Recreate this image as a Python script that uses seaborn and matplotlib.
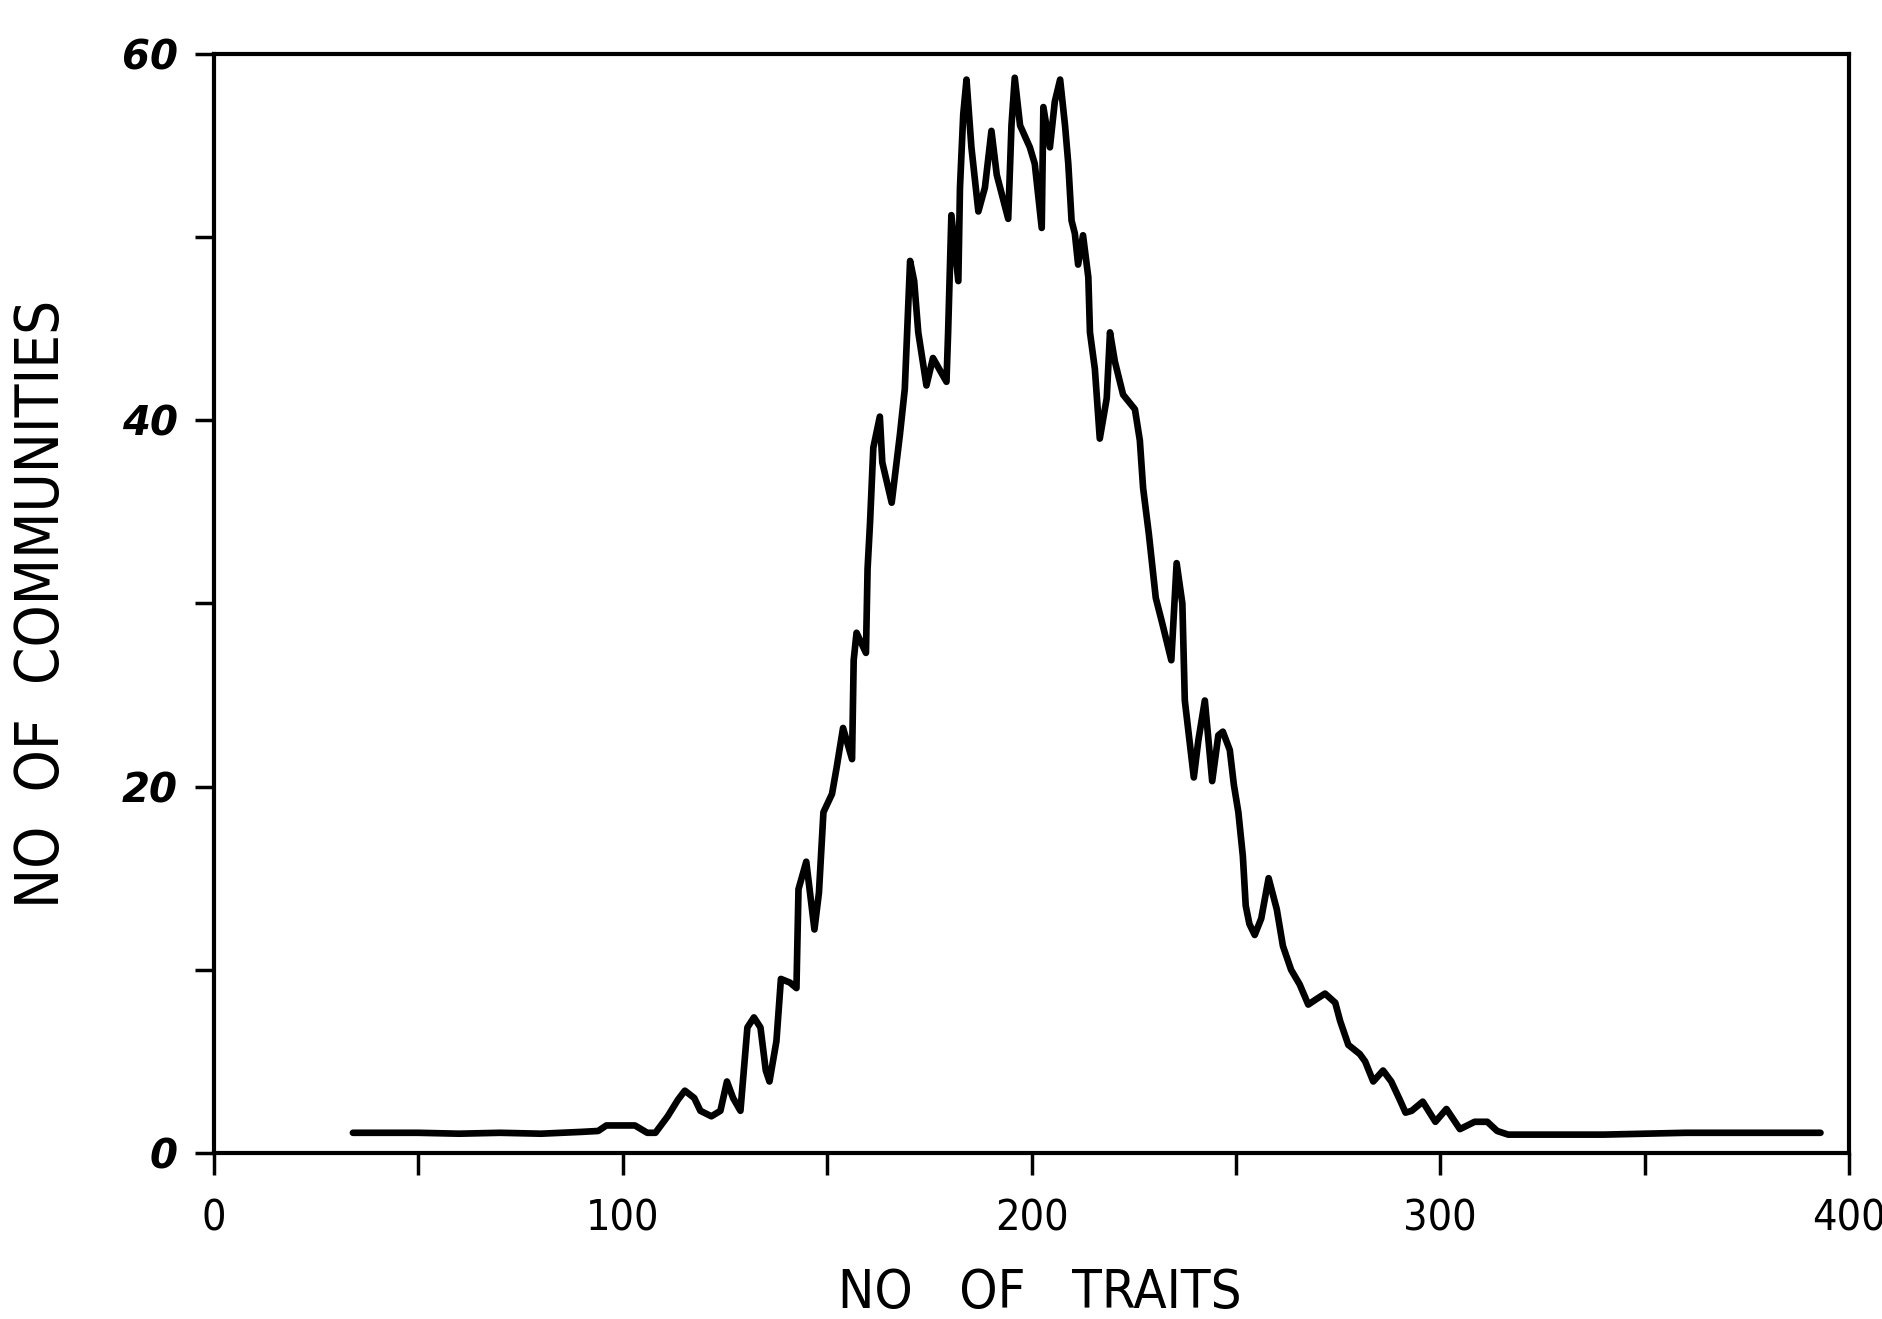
import numpy as np
import pandas as pd
import matplotlib
matplotlib.use("Agg")
import matplotlib.pyplot as plt
from matplotlib import font_manager
import seaborn as sns

# Data (No. of traits vs No. of communities)
traits = [34, 50, 60, 70, 80, 90, 94, 96, 103, 106, 108, 111, 113.5, 115.2, 117.5, 119,
          121.7, 123.9, 125.5, 127, 128.8, 130.5, 132.1, 133.7, 135, 135.9, 137.6, 138.7,
          140.9, 142.5, 143, 144.9, 146.9, 148, 149.1, 151.2, 152.3, 153.9, 156.1, 156.5,
          157.2, 159.5, 159.9, 160.5, 161.3, 162.9, 163.5, 165.8, 167.8, 169, 170.3, 171.3,
          172.3, 174.3, 175.9, 179.2, 179.6, 180.4, 182.1, 182.5, 183.3, 184.1, 185.3, 187,
          188.6, 190.2, 191.5, 194.3, 195.1, 195.9, 197.2, 199.6, 200.8, 202.5, 202.9, 204.5,
          205.7, 207, 208.2, 209, 209.8, 210.6, 211.4, 212.6, 213.9, 214.3, 215.5, 216.7,
          218.4, 219.2, 220.4, 222.4, 225.3, 226.5, 227.3, 228.7, 230.4, 232, 234.2, 235.5,
          236.9, 237.5, 238.6, 239.7, 240.8, 242.4, 243.5, 244.2, 245.7, 246.8, 248.5, 249.5,
          250.6, 251.7, 252.4, 253.3, 254.6, 256.2, 258, 260, 261.5, 263.5, 265.6, 267.7,
          269.7, 271.8, 274.3, 275.5, 277.5, 280.3, 281.6, 283.6, 286, 288, 290.1, 291.5,
          293, 295.7, 298.8, 301.5, 304.8, 308.4, 311.5, 313.9, 316.6, 330, 340, 350, 360,
          380, 393]
communities = [1.1, 1.1, 1.05, 1.1, 1.05, 1.15, 1.2, 1.5, 1.5, 1.1, 1.1, 2.0, 2.9, 3.4, 3.0, 2.3,
               2.0, 2.3, 3.9, 3.0, 2.3, 6.85, 7.4, 6.85, 4.5, 3.9, 6.1, 9.5,
               9.3, 9.0, 14.4, 15.9, 12.2, 14.2, 18.6, 19.6, 21.0, 23.2, 21.5, 26.9,
               28.4, 27.3, 31.9, 34.4, 38.5, 40.2, 37.7, 35.5, 39.2, 41.7, 48.7, 47.6,
               44.8, 41.9, 43.4, 42.1, 44.8, 51.2, 47.6, 52.7, 56.7, 58.6, 54.9, 51.4,
               52.7, 55.8, 53.4, 51.0, 56.1, 58.7, 56.1, 54.9, 54.0, 50.5, 57.1, 54.9,
               57.4, 58.6, 56.1, 54.0, 50.9, 50.2, 48.5, 50.1, 47.8, 44.8, 42.8, 39.0,
               41.2, 44.8, 43.2, 41.4, 40.6, 38.9, 36.3, 33.8, 30.3, 28.9, 26.9, 32.2,
               30.0, 24.7, 22.6, 20.5, 22.5, 24.7, 22.0, 20.3, 22.8, 23.0, 22.0, 20.1,
               18.6, 16.2, 13.5, 12.5, 11.9, 12.8, 15.0, 13.3, 11.3, 10.0, 9.2, 8.1,
               8.4, 8.7, 8.2, 7.2, 5.9, 5.4, 5.0, 3.9, 4.5, 3.9, 2.9, 2.2,
               2.3, 2.8, 1.7, 2.4, 1.3, 1.7, 1.7, 1.2, 1.0, 1.0, 1.0, 1.05, 1.1,
               1.1, 1.1]

x_ticks = [0, 50, 100, 150, 200, 250, 300, 350, 400]
x_tick_labels = ["0", "", "100", "", "200", "", "300", "", "400"]
y_ticks = [0, 10, 20, 30, 40, 50, 60]
y_tick_labels = ["0", "", "20", "", "40", "", "60"]

df = pd.DataFrame({"traits": traits, "communities": communities})

sns.set_style("white")

# pick a narrow font if one is installed
narrow = "DejaVu Sans"
stretch = "normal"
for cand in ["Liberation Sans Narrow", "DejaVu Sans Condensed"]:
    try:
        font_manager.findfont(font_manager.FontProperties(family=cand),
                              fallback_to_default=False)
        narrow = cand
        break
    except Exception:
        pass
if narrow == "DejaVu Sans":
    try:
        p = font_manager.findfont(font_manager.FontProperties(family="DejaVu Sans",
                                                              stretch="condensed"))
        if "Condensed" in p:
            stretch = "condensed"
    except Exception:
        pass

plt.rcParams["font.family"] = [narrow, "DejaVu Sans"]
plt.rcParams["text.color"] = "black"
plt.rcParams["axes.labelcolor"] = "black"

fig = plt.figure(figsize=(18.83, 13.19), dpi=100)
ax = fig.add_axes([0.1136, 0.1259, 0.8684, 0.8332])

sns.lineplot(data=df, x="traits", y="communities", ax=ax, color="black",
             linewidth=4.8, sort=False)

ax.set_xlim(0, 400)
ax.set_ylim(0, 60)
ax.set_xticks(x_ticks)
ax.set_xticklabels(x_tick_labels, fontsize=31, fontstretch=stretch, color="black")
ax.set_yticks(y_ticks)
ax.set_yticklabels(y_tick_labels, fontsize=29, style="italic", fontweight="bold",
                   family=["DejaVu Sans"], color="black")
ax.tick_params(axis="x", direction="out", length=16, width=2.5, pad=16,
               bottom=True, colors="black")
ax.tick_params(axis="y", direction="out", length=14, width=2.5, pad=12,
               left=True, colors="black")
# keep the last x label inside the picture
last = ax.get_xticklabels()[-1]
last.set_x(397)

for side in ["left", "right", "top", "bottom"]:
    ax.spines[side].set_visible(True)
    ax.spines[side].set_color("black")
    ax.spines[side].set_linewidth(3.0)

ax.set_xlabel("NO   OF   TRAITS", fontsize=39, fontstretch=stretch, color="black")
ax.set_ylabel("NO  OF  COMMUNITIES", fontsize=43, fontstretch=stretch, color="black")
ax.xaxis.set_label_coords(0.505, -0.104)
ax.yaxis.set_label_coords(-0.087, 0.5)

fig.savefig("out.png", dpi=100, facecolor="white")
